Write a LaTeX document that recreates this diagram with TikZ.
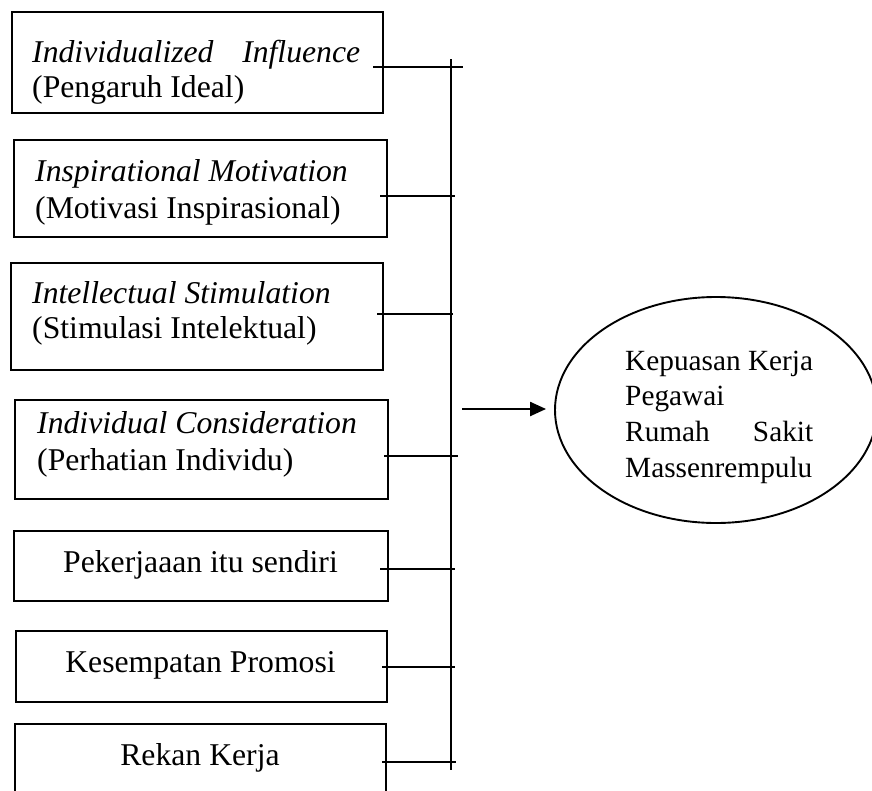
\documentclass[tikz,border=0pt]{standalone}
\usepackage{fontspec}
\setmainfont{Liberation Serif}
\usetikzlibrary{arrows.meta,shapes.geometric}
\newcommand{\twoln}[3]{\vtop{\baselineskip=#1\hbox{#2}\hbox{#3}}}
\begin{document}
\begin{tikzpicture}[x=1pt,y=-1pt,
  box/.style={draw,line width=2.3pt,rectangle,inner sep=0pt},
  txt/.style={anchor=base west,inner sep=0pt,font=\fontsize{31.7}{35.5}\selectfont},
  ctxt/.style={anchor=base,inner sep=0pt,font=\fontsize{31.7}{35.5}\selectfont},
  conn/.style={line width=2.3pt},
  arr/.style={line width=2.3pt,-{Triangle[length=16pt,width=14pt]}}]
\useasboundingbox (0,0) rectangle (872,790);
\clip (0,0) rectangle (872,790);
% boxes
\node[box,minimum width=371pt,minimum height=101pt] (b1) at (197.5,62.5) {};
\node[box,minimum width=373pt,minimum height=97pt] (b2) at (200.5,188.5) {};
\node[box,minimum width=372pt,minimum height=107pt] (b3) at (197,316.5) {};
\node[box,minimum width=373pt,minimum height=99pt] (b4) at (201.5,449.5) {};
\node[box,minimum width=374pt,minimum height=70pt] (b5) at (201,566) {};
\node[box,minimum width=371pt,minimum height=71pt] (b6) at (201.5,666.5) {};
\node[box,minimum width=371pt,minimum height=76pt] (b7) at (200.5,762) {};
% texts
\node[txt] (t1) at (32,62) {\vtop{\baselineskip=35.5pt\hbox to 328pt{\itshape Individualized\hfill Influence}\hbox{(Pengaruh Ideal)}}};
\node[txt] (t2) at (35,181) {\twoln{37pt}{\itshape Inspirational Motivation}{(Motivasi Inspirasional)}};
\node[txt] (t3) at (32,303) {\twoln{35pt}{\itshape Intellectual Stimulation}{(Stimulasi Intelektual)}};
\node[txt] (t4) at (37,433) {\twoln{37pt}{\itshape Individual Consideration}{(Perhatian Individu)}};
\node[ctxt] (t5) at (200.5,572) {Pekerjaaan itu sendiri};
\node[ctxt] (t6) at (200.5,672) {Kesempatan Promosi};
\node[ctxt] (t7) at (200,765) {Rekan Kerja};
% ellipse
\node[draw,ellipse,line width=1.9pt,minimum width=322pt,minimum height=226pt,inner sep=0pt] (ell) at (716,410) {};
\node[anchor=base west,inner sep=0pt,font=\fontsize{29.3}{35.7}\selectfont] (et) at (625,370)
  {\vtop{\baselineskip=35.7pt\hbox{Kepuasan Kerja}\hbox{Pegawai}\hbox to 188pt{Rumah\hfill Sakit}\hbox{Massenrempulu}}};
% bus
\coordinate (bt) at (451,59);
\coordinate (bb) at (451,770);
\draw[conn] (bt) -- (bb);
\coordinate (s1) at (373,67);  \coordinate (e1) at (463,67);
\coordinate (s2) at (380,196); \coordinate (e2) at (455,196);
\coordinate (s3) at (377,314); \coordinate (e3) at (453,314);
\coordinate (s4) at (384,456); \coordinate (e4) at (458,456);
\coordinate (s5) at (380,569); \coordinate (e5) at (455,569);
\coordinate (s6) at (382,667); \coordinate (e6) at (455,667);
\coordinate (s7) at (382,762); \coordinate (e7) at (456,762);
\foreach \i in {1,...,7} {\draw[conn] (s\i) -- (e\i);}
% arrow
\coordinate (a0) at (462,409);
\draw[arr,shorten >=8pt] (a0) -- (a0 -| ell.west);
\end{tikzpicture}
\end{document}
